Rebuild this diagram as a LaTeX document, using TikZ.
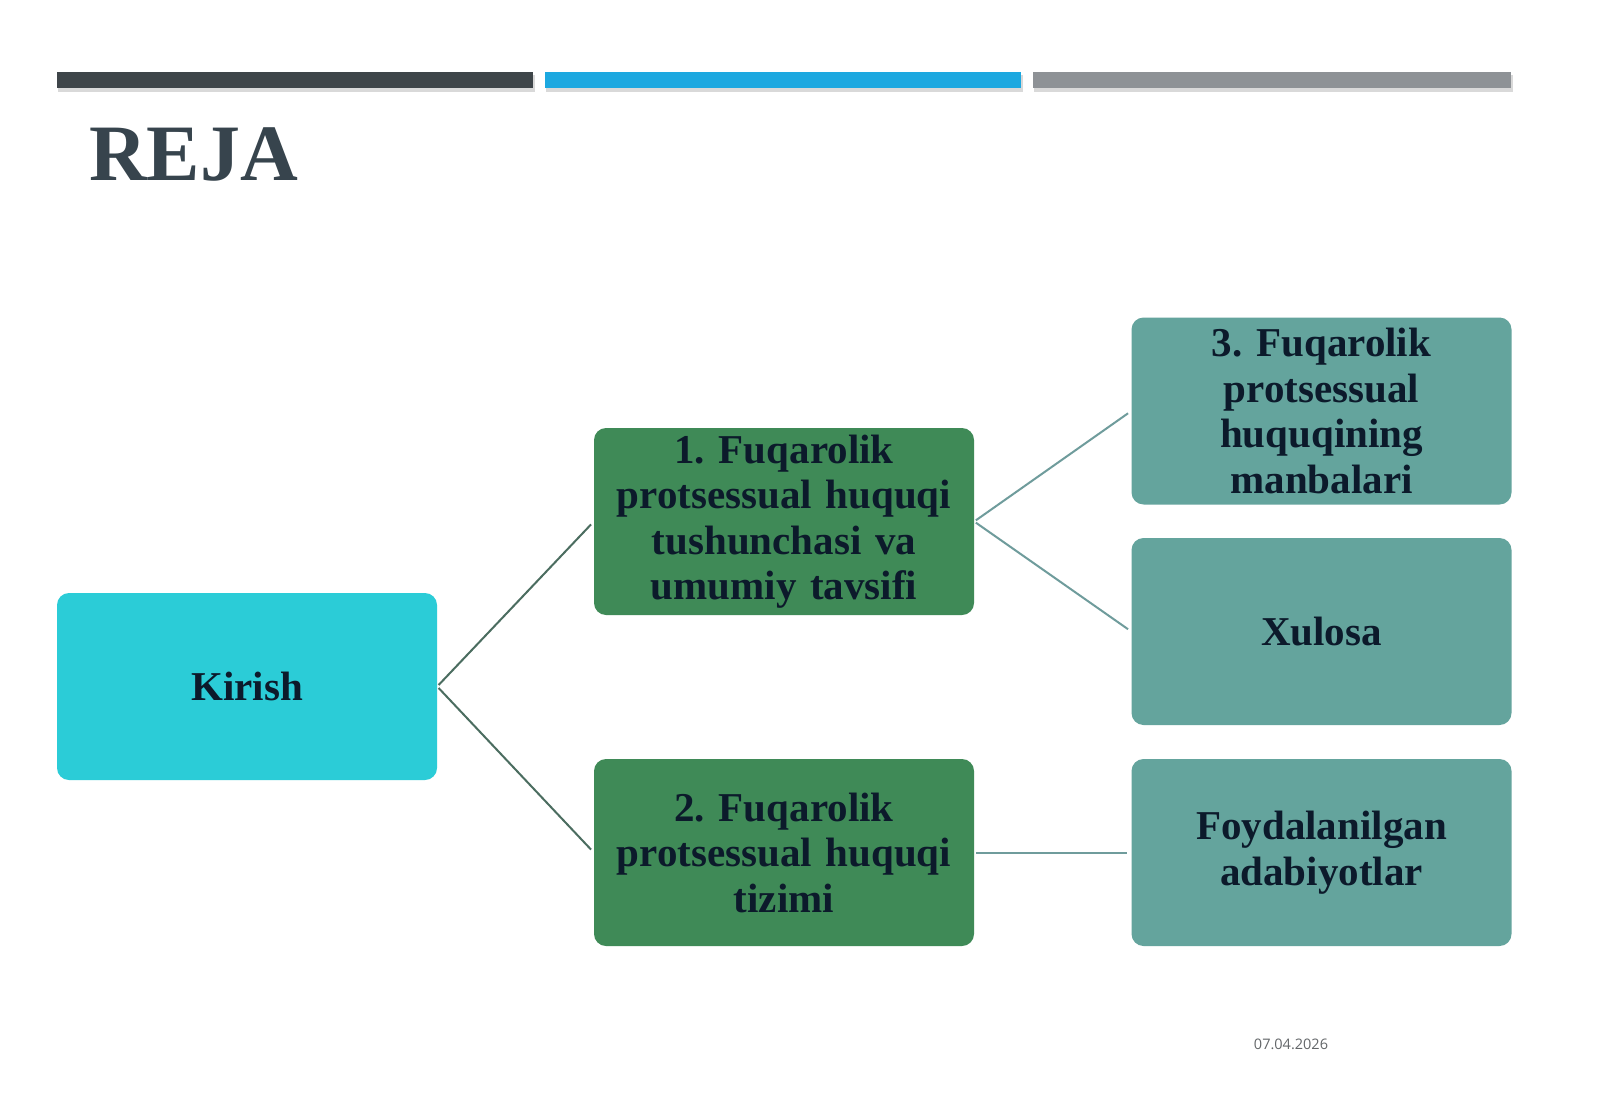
\documentclass[tikz,border=0pt]{standalone}
\usepackage{fontspec}
\setmainfont{Liberation Serif}
\newfontfamily\datefont{Open Sans}
\definecolor{barDark}{HTML}{3E4549}
\definecolor{barBlue}{HTML}{1CA8E0}
\definecolor{barGray}{HTML}{8E9296}
\definecolor{rejaInk}{HTML}{37444D}
\definecolor{introFill}{HTML}{2BCCD7}
\definecolor{partFill}{HTML}{3F8A57}
\definecolor{sideFill}{HTML}{64A49D}
\definecolor{boxInk}{HTML}{0C1A2B}
\definecolor{linkA}{HTML}{4B6D60}
\definecolor{linkB}{HTML}{6F9C9C}

\begin{document}
\begin{tikzpicture}[x=1pt,y=-1pt,
    barshade/.style={fill=black,opacity=0.15},
    planbox/.style={rectangle,rounded corners=12pt,minimum width=380pt,minimum height=187pt,
      inner sep=0pt,text width=370pt,align=center,text=boxInk,font=\fontsize{41}{45.5}\selectfont\bfseries},
    link/.style={line width=2pt,shorten <=2pt,shorten >=4pt}]
            \useasboundingbox (0,0) rectangle (1600,1107);
            \fill[white] (0,0) rectangle (1600,1107);
            % top bars
            \fill[barshade] (58,75) rectangle (535,92);
            \fill[barshade] (546,75) rectangle (1023,92);
            \fill[barshade] (1034,75) rectangle (1513,92);
            \fill[barDark] (57,72) rectangle (533,88);
            \fill[barBlue] (545,72) rectangle (1021,88);
            \fill[barGray] (1033,72) rectangle (1511,88);
            \node[anchor=base west,text=rejaInk,inner sep=0pt,font=\fontsize{80}{80}\selectfont\bfseries] (reja) at (89,181) {REJA};
            % boxes
            \node[planbox,fill=introFill] (intro) at (247,686.5) {Kirish};
            \node[planbox,fill=partFill] (part1) at (784,521.5) {1.\ Fuqarolik\\protsessual huquqi\\tushunchasi va\\umumiy tavsifi};
            \node[planbox,fill=partFill] (part2) at (784,852.5) {2.\ Fuqarolik\\protsessual huquqi\\tizimi};
            \node[planbox,fill=sideFill] (part3) at (1321.5,411) {3.\ Fuqarolik\\protsessual\\huquqining\\manbalari};
            \node[planbox,fill=sideFill] (concl) at (1321.5,631.5) {Xulosa};
            \node[planbox,fill=sideFill] (refs) at (1321.5,852.5) {Foydalanilgan\\adabiyotlar};
            % connectors
            \draw[link,linkA] (intro.east) -- (part1.west);
            \draw[link,linkA] (intro.east) -- (part2.west);
            \draw[link,linkB] (part1.east) -- (part3.west);
            \draw[link,linkB] (part1.east) -- (concl.west);
            \draw[link,linkB] (part2.east) -- (refs.west);
            \node[text=barGray!70!black,font=\datefont\fontsize{14.5}{16}\selectfont] (date) at (1291,1044) {07.04.2026};
\end{tikzpicture}
\end{document}
